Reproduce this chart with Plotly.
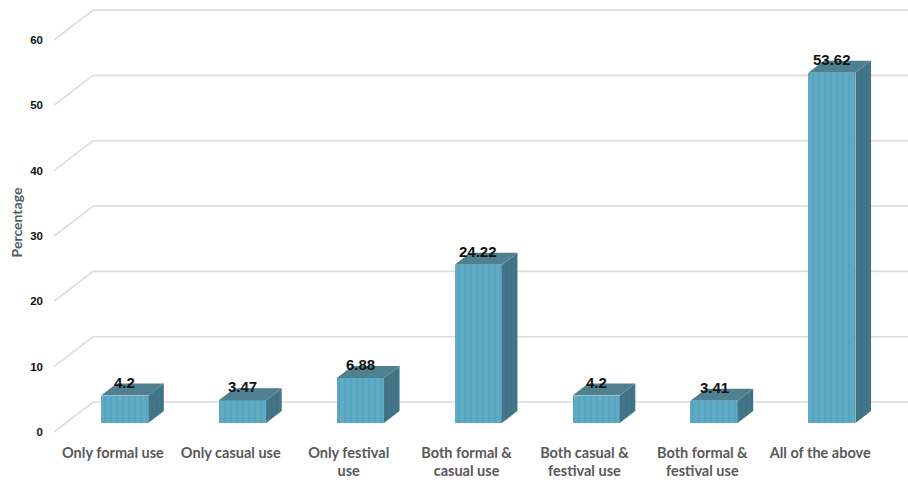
import plotly.graph_objects as go

# Survey response shares (percent) per usage category
categories = [
    "Only formal use",
    "Only casual use",
    "Only festival<br>use",
    "Both formal &<br>casual use",
    "Both casual &<br>festival use",
    "Both formal &<br>festival use",
    "All of the above",
]
percentages = [4.2, 3.47, 6.88, 24.22, 4.2, 3.41, 53.62]
value_labels = ["4.2", "3.47", "6.88", "24.22", "4.2", "3.41", "53.62"]
y_ticks = [0, 10, 20, 30, 40, 50, 60]

# Pseudo-3D geometry, expressed in axis units
DEPTH_X = 0.331      # horizontal shift of the back wall (category units)
DEPTH_Y = 4.59       # vertical shift of the back wall (value units)
FRONT, BACK = 0.3, 0.7   # depth of bar front / back faces
HALF_W = 0.2
X_MIN, X_MAX = -0.5, 6.745
Y_MIN, Y_MAX = -1.2245, 65.357

GRID = "#dcdcdc"
FACE = "#62a9c2"
FACE_STRIPE = "#3a9fca"
TOP = "#4e808f"
SIDE = "#44768a"
SIDE_STRIPE = "#3b6b7b"

fig = go.Figure()

# Walls: diagonal on the side wall + horizontal line along the back wall,
# kept underneath every trace
for t in y_ticks:
    fig.add_shape(type="line", layer="below", xref="x", yref="y",
                  x0=X_MIN, y0=t, x1=X_MIN + DEPTH_X, y1=t + DEPTH_Y,
                  line=dict(color=GRID, width=1.6))
    fig.add_shape(type="line", layer="below", xref="x", yref="y",
                  x0=X_MIN + DEPTH_X, y0=t + DEPTH_Y, x1=X_MAX + 0.2, y1=t + DEPTH_Y,
                  line=dict(color=GRID, width=1.6))

fx, fy = FRONT * DEPTH_X, FRONT * DEPTH_Y
bx, by = BACK * DEPTH_X, BACK * DEPTH_Y

# Front faces as real bars
fig.add_trace(go.Bar(
    x=[i + fx for i in range(len(percentages))],
    y=percentages,
    base=[fy] * len(percentages),
    width=2 * HALF_W,
    marker=dict(color=FACE, line=dict(width=0),
                pattern=dict(shape="|", fgcolor=FACE_STRIPE, bgcolor=FACE,
                             size=6, solidity=0.25)),
    hoverinfo="skip", showlegend=False,
))

for i, v in enumerate(percentages):
    xl, xr = i - HALF_W, i + HALF_W
    # right side face
    fig.add_trace(go.Scatter(
        x=[xr + fx, xr + fx, xr + bx, xr + bx, xr + fx],
        y=[fy, v + fy, v + by, by, fy],
        mode="lines", fill="toself", fillcolor=SIDE,
        fillpattern=dict(shape="|", fgcolor=SIDE_STRIPE, bgcolor=SIDE,
                         size=5, solidity=0.35),
        line=dict(width=0), hoverinfo="skip", showlegend=False,
    ))
    # top face
    fig.add_trace(go.Scatter(
        x=[xl + fx, xr + fx, xr + bx, xl + bx, xl + fx],
        y=[v + fy, v + fy, v + by, v + by, v + fy],
        mode="lines", fill="toself", fillcolor=TOP,
        line=dict(width=0), hoverinfo="skip", showlegend=False,
    ))

for i, (v, lab) in enumerate(zip(percentages, value_labels)):
    fig.add_annotation(
        x=i + fx, y=v + fy, text=lab, showarrow=False,
        xanchor="center", yanchor="bottom", yshift=3,
        font=dict(family="Liberation Sans", size=15, color="#111111", weight="bold"),
    )

fig.update_layout(
    width=908, height=480,
    margin=dict(l=54, r=0, t=5, b=40),
    paper_bgcolor="white", plot_bgcolor="white",
    bargap=0,
    xaxis=dict(
        range=[X_MIN, X_MAX], tickmode="array",
        tickvals=list(range(len(categories))), ticktext=categories,
        showgrid=False, zeroline=False, showline=False, ticks="",
        ticklabelstandoff=2,
        tickfont=dict(family="Lato", size=14.5, color="#595959", weight="bold"),
        fixedrange=True,
    ),
    yaxis=dict(
        range=[Y_MIN, Y_MAX], tickmode="array", tickvals=y_ticks,
        showgrid=False, zeroline=False, showline=False, ticks="",
        ticklabelstandoff=10,
        tickfont=dict(family="Liberation Sans", size=11.5, color="#111111", weight="bold"),
        title=dict(text="Percentage", standoff=4,
                   font=dict(family="Lato", size=14, color="#595959", weight="bold")),
        fixedrange=True,
    ),
)

fig.write_html("out.html")
